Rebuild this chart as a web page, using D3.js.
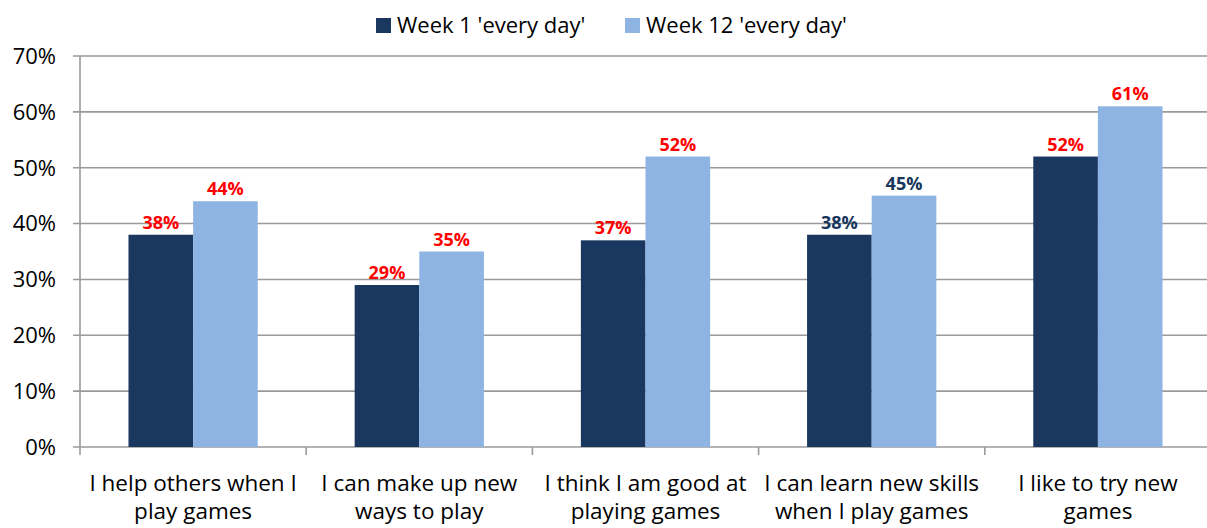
<!DOCTYPE html>
<html>
<head>
<meta charset="utf-8">
<style>
  body { margin: 0; background: #fff; }
  svg { display: block; font-family: 'Open Sans', sans-serif; }
  .grid line { stroke: #9a9a9a; stroke-width: 1.6px; }
  .tick-label { font-size: 22px; fill: #000; }
  .cat-label { font-size: 22.5px; fill: #000; }
  .value { font-size: 18px; font-weight: bold; text-anchor: middle; }
</style>
</head>
<body>
<div id="chart"></div>
<script src="https://cdn.jsdelivr.net/npm/d3@7"></script>
<script>
const categories = [
  ["I help others when I", "play games"],
  ["I can make up new", "ways to play"],
  ["I think I am good at", "playing games"],
  ["I can learn new skills", "when I play games"],
  ["I like to try new", "games"]
];
const seriesNames = ["Week 1 'every day'", "Week 12 'every day'"];
const week1 = [38, 29, 37, 38, 52];
const week12 = [44, 35, 52, 45, 61];
const labelColors = ["#ff0000", "#ff0000", "#ff0000", "#17365d", "#ff0000"];
const yTicks = [0, 10, 20, 30, 40, 50, 60, 70];

const width = 1207, height = 528;
const plotLeft = 80, plotRight = 1211, plotTop = 56, plotBottom = 447;
const colors = ["#19375f", "#8eb4e3"];

const svg = d3.select('#chart').append('svg')
    .attr('width', width)
    .attr('height', height);

const x0 = d3.scaleBand()
    .domain(d3.range(categories.length))
    .range([plotLeft, plotRight]);

const x1 = d3.scaleBand()
    .domain([0, 1])
    .range([0, x0.bandwidth()])
    .paddingOuter(0.75);

const y = d3.scaleLinear()
    .domain([0, 70])
    .range([plotBottom, plotTop]);

// gridlines
svg.append('g').attr('class', 'grid')
  .selectAll('line')
  .data(yTicks)
  .join('line')
    .attr('x1', plotLeft - 7)
    .attr('x2', plotRight)
    .attr('y1', d => y(d))
    .attr('y2', d => y(d));

// y axis line
svg.append('line')
    .attr('x1', plotLeft).attr('x2', plotLeft)
    .attr('y1', plotTop).attr('y2', plotBottom + 8)
    .attr('stroke', '#9a9a9a').attr('stroke-width', 1.6);

// category ticks
svg.append('g').attr('class', 'grid')
  .selectAll('line')
  .data(d3.range(1, categories.length))
  .join('line')
    .attr('x1', d => x0(d)).attr('x2', d => x0(d))
    .attr('y1', plotBottom).attr('y2', plotBottom + 8);

svg.append('g')
  .selectAll('text')
  .data(yTicks)
  .join('text')
    .attr('class', 'tick-label')
    .attr('x', plotLeft - 24)
    .attr('y', d => y(d))
    .attr('dy', '0.36em')
    .attr('text-anchor', 'end')
    .text(d => d + '%');

const data = categories.map((c, i) => ({ i, values: [week1[i], week12[i]] }));

const groups = svg.append('g')
  .selectAll('g')
  .data(data)
  .join('g')
    .attr('transform', d => `translate(${x0(d.i)},0)`);

groups.selectAll('rect')
  .data(d => d.values.map((v, s) => ({ v, s })))
  .join('rect')
    .attr('x', d => x1(d.s))
    .attr('width', x1.bandwidth())
    .attr('y', d => y(d.v))
    .attr('height', d => y(0) - y(d.v))
    .attr('fill', d => colors[d.s]);

groups.selectAll('text.value')
  .data(d => d.values.map((v, s) => ({ v, s, i: d.i })))
  .join('text')
    .attr('class', 'value')
    .attr('x', d => x1(d.s) + x1.bandwidth() / 2)
    .attr('y', d => y(d.v) - 6)
    .attr('fill', d => labelColors[d.i])
    .text(d => d.v + '%');

// category labels
const catText = svg.append('g')
  .selectAll('text')
  .data(categories)
  .join('text')
    .attr('class', 'cat-label')
    .attr('text-anchor', 'middle')
    .attr('transform', (d, i) => `translate(${x0(i) + x0.bandwidth() / 2},491)`);

catText.selectAll('tspan')
  .data(d => d)
  .join('tspan')
    .attr('x', 0)
    .attr('y', (d, i) => i * 28)
    .text(d => d);

// legend
const legendX = [376, 625];
const legend = svg.append('g')
  .selectAll('g')
  .data(seriesNames)
  .join('g')
    .attr('transform', (d, i) => `translate(${legendX[i]},18)`);

legend.append('rect')
    .attr('width', 15).attr('height', 15)
    .attr('fill', (d, i) => colors[i]);

legend.append('text')
    .attr('class', 'tick-label')
    .attr('x', 21)
    .attr('y', 15)
    .text(d => d);
</script>
</body>
</html>
